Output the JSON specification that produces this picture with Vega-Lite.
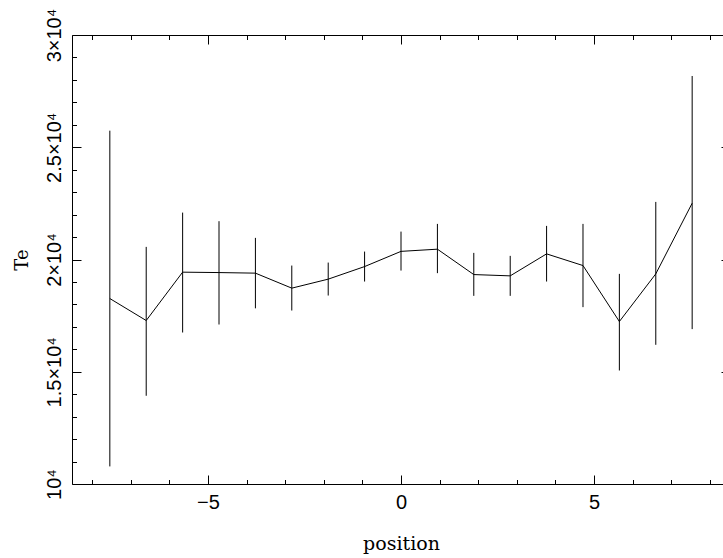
{
  "$schema": "https://vega.github.io/schema/vega-lite/v6.json",
  "autosize": {"type": "none"},
  "padding": {"left": 72, "top": 35, "right": 0, "bottom": 74},
  "width": 658,
  "height": 449,
  "background": "white",
  "config": {
    "view": {"stroke": "black", "strokeWidth": 1},
    "axis": {"domain": false, "grid": false, "tickColor": "black", "tickWidth": 1, "labelColor": "black", "titleColor": "black", "labelFont": "Liberation Sans", "labelFontSize": 20, "titleFont": "DejaVu Serif", "titleFontSize": 19, "titleFontWeight": "normal", "labelOverlap": false, "labelFlush": false}
  },
  "data": {"values": [
    {"pos": -7.54, "Te": 18261, "lo": 10783, "hi": 25739},
    {"pos": -6.598, "Te": 17282, "lo": 13930, "hi": 20562},
    {"pos": -5.655, "Te": 19436, "lo": 16748, "hi": 22089},
    {"pos": -4.713, "Te": 19418, "lo": 17104, "hi": 21706},
    {"pos": -3.77, "Te": 19392, "lo": 17825, "hi": 20963},
    {"pos": -2.828, "Te": 18724, "lo": 17727, "hi": 19730},
    {"pos": -1.885, "Te": 19125, "lo": 18395, "hi": 19863},
    {"pos": -0.943, "Te": 19685, "lo": 19018, "hi": 20353},
    {"pos": 0, "Te": 20362, "lo": 19507, "hi": 21243},
    {"pos": 0.943, "Te": 20460, "lo": 19392, "hi": 21586},
    {"pos": 1.885, "Te": 19329, "lo": 18381, "hi": 20295},
    {"pos": 2.828, "Te": 19271, "lo": 18381, "hi": 20162},
    {"pos": 3.77, "Te": 20251, "lo": 19018, "hi": 21497},
    {"pos": 4.713, "Te": 19730, "lo": 17878, "hi": 21586},
    {"pos": 5.655, "Te": 17237, "lo": 15056, "hi": 19360},
    {"pos": 6.598, "Te": 19360, "lo": 16200, "hi": 22565},
    {"pos": 7.54, "Te": 22507, "lo": 16899, "hi": 28174}
  ]},
  "resolve": {"axis": {"x": "independent", "y": "independent"}},
  "layer": [
    {
      "mark": {"type": "rule", "color": "black", "strokeWidth": 1},
      "encoding": {
        "x": {"field": "pos", "type": "quantitative", "scale": {"domain": [-8.52, 8.52], "nice": false, "zero": false},
          "axis": {"orient": "bottom", "values": [-5, 0, 5], "tickSize": -9, "labelPadding": 33.5, "labelBaseline": "alphabetic", "title": "position", "titleBaseline": "alphabetic", "titleX": 329, "titleY": 65}},
        "y": {"field": "lo", "type": "quantitative", "scale": {"domain": [10000, 30000], "nice": false, "zero": false},
          "axis": {"orient": "left", "values": [10000, 15000, 20000, 25000, 30000], "tickSize": -9, "labelPadding": 21, "labelAngle": -90, "labelAlign": "center", "labelBaseline": "alphabetic",
            "labelExpr": "datum.value == 10000 ? '10⁴' : ('' + (datum.value / 10000)) + '×10⁴'",
            "title": "Te", "titleFontSize": 18, "titleBaseline": "alphabetic", "titleX": -45, "titleY": 224.5}},
        "y2": {"field": "hi"}
      }
    },
    {
      "mark": {"type": "line", "color": "black", "strokeWidth": 1},
      "encoding": {
        "x": {"field": "pos", "type": "quantitative", "scale": {"domain": [-8.52, 8.52], "nice": false, "zero": false},
          "axis": {"orient": "bottom", "values": [-8, -7, -6, -5, -4, -3, -2, -1, 0, 1, 2, 3, 4, 5, 6, 7, 8], "tickSize": -4.5, "labels": false, "title": null}},
        "y": {"field": "Te", "type": "quantitative", "scale": {"domain": [10000, 30000], "nice": false, "zero": false},
          "axis": {"orient": "left", "values": [11000, 12000, 13000, 14000, 16000, 17000, 18000, 19000, 21000, 22000, 23000, 24000, 26000, 27000, 28000, 29000], "tickSize": -4.5, "labels": false, "title": null}}
      }
    },
    {
      "mark": {"type": "line", "color": "black", "strokeWidth": 1, "opacity": 0},
      "encoding": {
        "x": {"field": "pos", "type": "quantitative", "scale": {"domain": [-8.52, 8.52], "nice": false, "zero": false},
          "axis": {"orient": "top", "values": [-5, 0, 5], "tickSize": -9, "labels": false, "title": null}},
        "y": {"field": "Te", "type": "quantitative", "scale": {"domain": [10000, 30000], "nice": false, "zero": false},
          "axis": {"orient": "right", "values": [10000, 15000, 20000, 25000, 30000], "tickSize": -9, "labels": false, "title": null}}
      }
    },
    {
      "mark": {"type": "line", "color": "black", "strokeWidth": 1, "opacity": 0},
      "encoding": {
        "x": {"field": "pos", "type": "quantitative", "scale": {"domain": [-8.52, 8.52], "nice": false, "zero": false},
          "axis": {"orient": "top", "values": [-8, -7, -6, -5, -4, -3, -2, -1, 0, 1, 2, 3, 4, 5, 6, 7, 8], "tickSize": -4.5, "labels": false, "title": null}},
        "y": {"field": "Te", "type": "quantitative", "scale": {"domain": [10000, 30000], "nice": false, "zero": false},
          "axis": {"orient": "right", "values": [11000, 12000, 13000, 14000, 16000, 17000, 18000, 19000, 21000, 22000, 23000, 24000, 26000, 27000, 28000, 29000], "tickSize": -4.5, "labels": false, "title": null}}
      }
    }
  ]
}
